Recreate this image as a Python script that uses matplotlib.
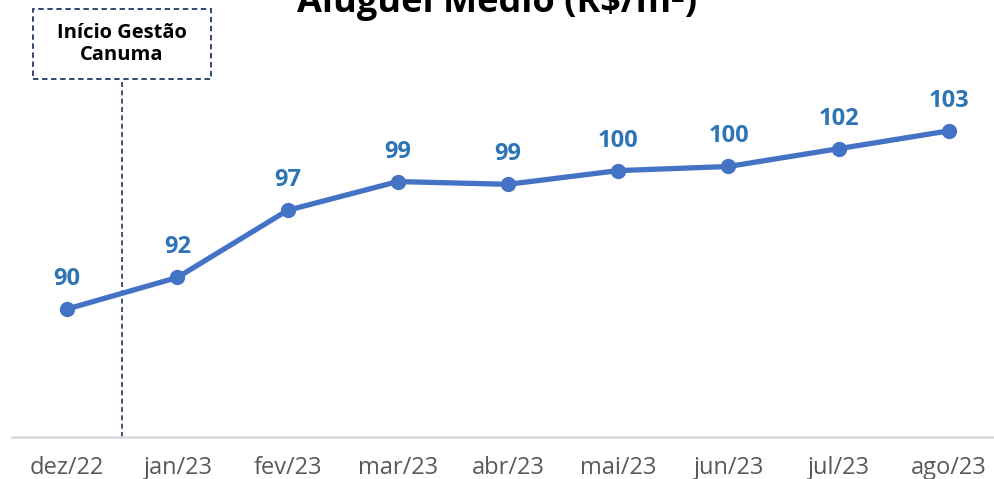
import matplotlib.pyplot as plt
from matplotlib.patches import Rectangle

meses = ['dez/22', 'jan/23', 'fev/23', 'mar/23', 'abr/23', 'mai/23', 'jun/23', 'jul/23', 'ago/23']
aluguel = [90.0, 92.3, 97.2, 99.3, 99.1, 100.1, 100.4, 101.7, 103.0]
rotulos = ['90', '92', '97', '99', '99', '100', '100', '102', '103']

plt.rcParams['font.family'] = ['Open Sans', 'DejaVu Sans']

W, H = 995, 479
fig = plt.figure(figsize=(W / 100, H / 100), dpi=100)
ax = fig.add_axes([12 / W, 42 / H, 992 / W, 437 / H])

x = list(range(len(meses)))
ax.plot(x, aluguel, color='#4472C4', lw=3.8, marker='o', ms=10, solid_capstyle='round', zorder=3)

for xi, yi, t in zip(x, aluguel, rotulos):
    ax.annotate(t, (xi, yi), xytext=(0, 13), textcoords='offset points',
                ha='center', va='bottom', fontsize=17, fontweight='bold', color='#2E75B6')

ax.set_xlim(-0.5, 8.5)
ax.set_ylim(80.66, 112.55)

# linha de inicio da gestao
ax.plot([0.5, 0.5], [ax.get_ylim()[0], 90 + (309 - 80) / 13.7], color='#1F3864',
        lw=1.2, ls=(0, (3, 2)), zorder=2)

for s in ['top', 'right', 'left']:
    ax.spines[s].set_visible(False)
ax.spines['bottom'].set_color('#D9D9D9')
ax.spines['bottom'].set_linewidth(1.8)
ax.set_yticks([])
ax.set_xticks(x)
ax.set_xticklabels(meses, fontsize=17, color='#595959')
ax.tick_params(axis='x', length=0, pad=14)

fig.text(0.5, 1 - 12 / H, 'Aluguel Médio (R$/m²)', ha='center', va='baseline',
         fontsize=26, fontweight='bold', color='black')

fig.patches.append(Rectangle((33 / W, 1 - 79 / H), 178 / W, 70 / H, transform=fig.transFigure,
                             fc='white', ec='#1F3864', lw=1.3, ls=(0, (3, 2)), zorder=4))
fig.text(122 / W, 1 - 44 / H, 'Início Gestão\nCanuma', ha='center', va='center',
         fontsize=14.5, fontweight='bold', color='black', linespacing=1.1, zorder=5)

fig.savefig('out.png', dpi=100)
